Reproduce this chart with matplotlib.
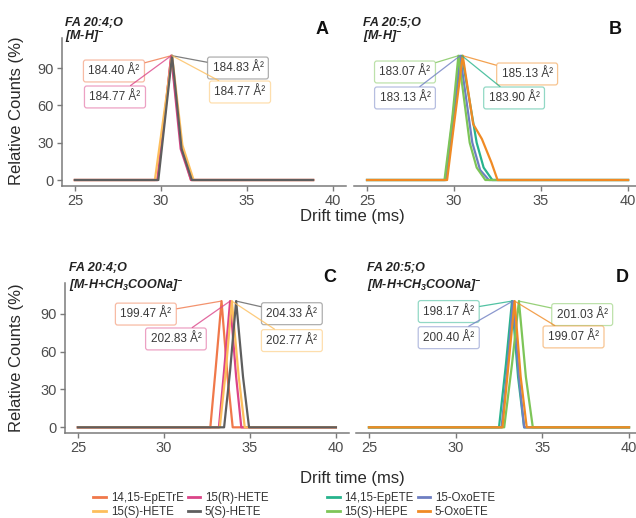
import numpy as np
import matplotlib
matplotlib.use("Agg")
import matplotlib.pyplot as plt
from matplotlib.colors import to_rgba
from matplotlib.lines import Line2D

plt.rcParams['font.family'] = ['Liberation Sans', 'DejaVu Sans']
plt.rcParams['mathtext.fontset'] = 'custom'
plt.rcParams['mathtext.rm'] = 'Liberation Sans:bold:italic'
plt.rcParams['mathtext.it'] = 'Liberation Sans:bold:italic'
plt.rcParams['mathtext.bf'] = 'Liberation Sans:bold:italic'

W, H = 636, 518

# ---- data ----
names_hete = ["14,15-EpETrE", "15(R)-HETE", "15(S)-HETE", "5(S)-HETE"]
names_hepe = ["14,15-EpETE", "15-OxoETE", "15(S)-HEPE", "5-OxoETE"]
colors = {
    "14,15-EpETrE": "#F0784A", "15(R)-HETE": "#DB4488",
    "15(S)-HETE": "#FDBE5C", "5(S)-HETE": "#5E5E5E",
    "14,15-EpETE": "#27B38C", "15-OxoETE": "#6E7EC2",
    "15(S)-HEPE": "#7DC558", "5-OxoETE": "#F08A24",
}

# panel A: FA 20:4;O [M-H]-
a_x = {
    "14,15-EpETrE": [25, 29.8, 30.2, 30.6, 31.2, 31.75, 38.85],
    "15(R)-HETE": [25, 29.8, 30.2, 30.6, 31.15, 31.75, 38.85],
    "15(S)-HETE": [25, 29.65, 30.1, 30.65, 31.25, 31.9, 38.85],
    "5(S)-HETE": [25, 29.85, 30.25, 30.65, 31.2, 31.8, 38.85],
}
a_y = {
    "14,15-EpETrE": [0, 0, 48, 100, 26, 0, 0],
    "15(R)-HETE": [0, 0, 50, 100, 25, 0, 0],
    "15(S)-HETE": [0, 0, 45, 100, 28, 0, 0],
    "5(S)-HETE": [0, 0, 50, 100, 25, 0, 0],
}
# panel B: FA 20:5;O [M-H]-
b_x = {
    "14,15-EpETE": [25, 29.55, 30.45, 31.3, 31.7, 32.2, 40],
    "15-OxoETE": [25, 29.5, 30.35, 31.05, 31.5, 32.0, 40],
    "15(S)-HEPE": [25, 29.45, 29.9, 30.25, 30.9, 31.3, 31.8, 40],
    "5-OxoETE": [25, 29.6, 30.0, 30.5, 31.1, 31.6, 32.15, 32.5, 40],
}
b_y = {
    "14,15-EpETE": [0, 0, 100, 30, 10, 0, 0],
    "15-OxoETE": [0, 0, 100, 30, 8, 0, 0],
    "15(S)-HEPE": [0, 0, 50, 100, 30, 10, 0, 0],
    "5-OxoETE": [0, 0, 45, 100, 45, 33, 14, 0, 0],
}
# panel C: FA 20:4;O [M-H+CH3COONa]-
c_x = {
    "14,15-EpETrE": [25, 32.7, 33.0, 33.35, 33.7, 34.0, 40],
    "15(R)-HETE": [25, 33.2, 33.5, 33.85, 34.2, 34.5, 40],
    "15(S)-HETE": [25, 33.25, 33.6, 33.95, 34.35, 34.7, 40],
    "5(S)-HETE": [25, 33.5, 33.85, 34.2, 34.6, 34.95, 40],
}
c_y = {
    "14,15-EpETrE": [0, 0, 45, 100, 40, 0, 0],
    "15(R)-HETE": [0, 0, 45, 100, 40, 0, 0],
    "15(S)-HETE": [0, 0, 45, 100, 40, 0, 0],
    "5(S)-HETE": [0, 0, 45, 100, 40, 0, 0],
}
# panel D: FA 20:5;O [M-H+CH3COONa]-
d_x = {
    "14,15-EpETE": [25, 32.5, 32.9, 33.25, 33.6, 33.95, 40],
    "15-OxoETE": [25, 32.65, 33.0, 33.3, 33.65, 33.95, 40],
    "15(S)-HEPE": [25, 32.8, 33.25, 33.65, 34.05, 34.45, 40],
    "5-OxoETE": [25, 32.7, 33.05, 33.4, 33.75, 34.1, 40],
}
d_y = {
    "14,15-EpETE": [0, 0, 50, 100, 40, 0, 0],
    "15-OxoETE": [0, 0, 50, 100, 40, 0, 0],
    "15(S)-HEPE": [0, 0, 50, 100, 40, 0, 0],
    "5-OxoETE": [0, 0, 50, 100, 40, 0, 0],
}

# CCS labels: text, series, label position (drift time, %)
a_labels = [("184.40 Å²", "14,15-EpETrE", 27.27, 87.7), ("184.77 Å²", "15(R)-HETE", 27.33, 66.8),
            ("184.83 Å²", "5(S)-HETE", 34.48, 90.1), ("184.77 Å²", "15(S)-HETE", 34.6, 70.8)]
b_labels = [("183.07 Å²", "15(S)-HEPE", 27.18, 86.9), ("183.13 Å²", "15-OxoETE", 27.18, 66.0),
            ("185.13 Å²", "5-OxoETE", 34.2, 85.3), ("183.90 Å²", "14,15-EpETE", 33.45, 66.0)]
c_labels = [("199.47 Å²", "14,15-EpETrE", 28.95, 89.7), ("202.83 Å²", "15(R)-HETE", 30.7, 70.0),
            ("204.33 Å²", "5(S)-HETE", 37.44, 90.0), ("202.77 Å²", "15(S)-HETE", 37.44, 68.7)]
d_labels = [("198.17 Å²", "14,15-EpETE", 29.6, 91.7), ("200.40 Å²", "15-OxoETE", 29.6, 71.0),
            ("201.03 Å²", "15(S)-HEPE", 37.3, 89.3), ("199.07 Å²", "5-OxoETE", 36.8, 71.6)]

xticks = [25, 30, 35, 40]
yticks = [0, 30, 60, 90]

AX_GRAY = "#7a7a7a"


def add_axes(fig, left, right, top, bottom):
    return fig.add_axes([left / W, 1 - bottom / H, (right - left) / W, (bottom - top) / H])


def draw_panel(ax, xs, ys, names, labels, show_y):
    for n in names:
        ax.plot(xs[n], ys[n], color=colors[n], lw=1.6, solid_joinstyle='round')
    for txt, n, lx, ly in labels:
        i = int(np.argmax(ys[n]))
        c = colors[n]
        ax.annotate(txt, xy=(xs[n][i], ys[n][i]), xytext=(lx, ly),
                    ha='center', va='center', fontsize=8.5, color="#3a3a3a",
                    bbox=dict(boxstyle='round,pad=0.42,rounding_size=0.2', fc='white',
                              ec=to_rgba(c, 0.5), lw=0.9),
                    arrowprops=dict(arrowstyle='-', color=to_rgba(c, 0.8), lw=0.9,
                                    shrinkA=0, shrinkB=0))
    ax.set_xlim(24.25, 40.75)
    ax.set_ylim(-4.5, 114)
    ax.set_xticks(xticks)
    ax.set_yticks(yticks)
    ax.patch.set_visible(False)
    for s in ['top', 'right']:
        ax.spines[s].set_visible(False)
    ax.spines['bottom'].set_color(AX_GRAY)
    ax.spines['bottom'].set_linewidth(1.1)
    if show_y:
        ax.spines['left'].set_color(AX_GRAY)
        ax.spines['left'].set_linewidth(1.1)
    else:
        ax.spines['left'].set_visible(False)
        ax.tick_params(axis='y', left=False, labelleft=False)
    ax.tick_params(colors=AX_GRAY, labelcolor="#4d4d4d", labelsize=10.5,
                   length=3.5, width=1.0, pad=2.5)


fig = plt.figure(figsize=(W / 100, H / 100), dpi=100)

axA = add_axes(fig, 62, 345.8, 38.3, 185.6)
axB = add_axes(fig, 354, 641.1, 38.3, 185.6)
axC = add_axes(fig, 65, 348.8, 283.4, 433.0)
axD = add_axes(fig, 356, 642.0, 283.4, 433.0)

draw_panel(axA, a_x, a_y, names_hete, a_labels, True)
draw_panel(axB, b_x, b_y, names_hepe, b_labels, False)
draw_panel(axC, c_x, c_y, names_hete, c_labels, True)
draw_panel(axD, d_x, d_y, names_hepe, d_labels, False)


def ftext(x, y, s, **kw):
    fig.text(x / W, 1 - y / H, s, **kw)


title_kw = dict(fontsize=9, fontweight='bold', style='italic', color="#222222", va='center', ha='left')
ftext(65, 23, "FA 20:4;O", **title_kw)
ftext(65, 37, r"[M-H]$^{-}$", **title_kw)
ftext(363, 23, "FA 20:5;O", **title_kw)
ftext(363, 37, r"[M-H]$^{-}$", **title_kw)
ftext(69, 268, "FA 20:4;O", **title_kw)
ftext(69, 286, r"[M-H+CH$_{3}$COONa]$^{-}$", **title_kw)
ftext(367, 268, "FA 20:5;O", **title_kw)
ftext(367, 286, r"[M-H+CH$_{3}$COONa]$^{-}$", **title_kw)

letter_kw = dict(fontsize=13, fontweight='bold', color="#111111", va='center', ha='center')
ftext(322, 30, "A", **letter_kw)
ftext(615, 30, "B", **letter_kw)
ftext(330, 278, "C", **letter_kw)
ftext(622, 278, "D", **letter_kw)

lab_kw = dict(fontsize=12, color="#2a2a2a", va='center', ha='center')
ftext(17, 111, "Relative Counts (%)", rotation=90, **lab_kw)
ftext(17, 358, "Relative Counts (%)", rotation=90, **lab_kw)
ftext(352, 217, "Drift time (ms)", **lab_kw)
ftext(352, 478, "Drift time (ms)", **lab_kw)


def legend(order, cx):
    handles = [Line2D([], [], color=colors[n], lw=2) for n in order]
    fig.legend(handles, order, loc='center', bbox_to_anchor=(cx / W, 1 - 505 / H),
               ncol=2, frameon=False, fontsize=8.3, handlelength=1.1,
               columnspacing=0.35, labelspacing=0.12, handletextpad=0.4,
               labelcolor="#333333")


legend(["14,15-EpETrE", "15(S)-HETE", "15(R)-HETE", "5(S)-HETE"], 181)
legend(["14,15-EpETE", "15(S)-HEPE", "15-OxoETE", "5-OxoETE"], 411)

fig.savefig("out.png", dpi=100)
